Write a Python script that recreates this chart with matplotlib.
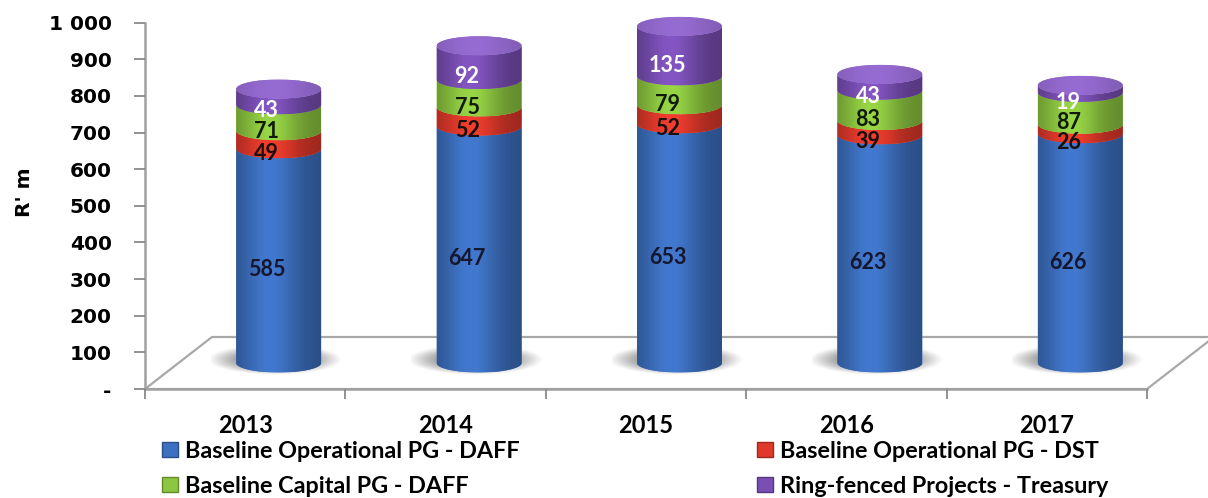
import numpy as np
import matplotlib
matplotlib.use("Agg")
import matplotlib.pyplot as plt
from matplotlib.patches import Polygon, PathPatch, Ellipse, Patch
from matplotlib.path import Path
from matplotlib.colors import to_rgb

# Budget per year, R' m
years = ["2013", "2014", "2015", "2016", "2017"]
op_daff = [585, 647, 653, 623, 626]
op_dst = [49, 52, 52, 39, 26]
cap_daff = [71, 75, 79, 83, 87]
ring_fenced = [43, 92, 135, 43, 19]

series = [op_daff, op_dst, cap_daff, ring_fenced]
names = ["Baseline Operational PG - DAFF", "Baseline Operational PG - DST",
         "Baseline Capital PG - DAFF", "Ring-fenced Projects - Treasury"]
colors = ["#3d70c0", "#e0392b", "#8dc640", "#7a4fb4"]
label_colors = ["#14172e", "#1a1010", "#101a08", "white"]
top_color = "#8f66c8"

W, H = 1208, 498
PX_CAT = 200.4      # pixels per category
PX_VAL = 0.3663     # pixels per unit of value

fig = plt.figure(figsize=(W / 100, H / 100), dpi=100)
ax = fig.add_axes([145 / W, (H - 389) / H, (W - 145) / W, 389 / H])
xmax = -0.5 + (W - 145) / PX_CAT
ymax = 389 / PX_VAL

# oblique depth of the floor
DX = 67 / PX_CAT
DY = 52 / PX_VAL
a = 42.5 / PX_CAT     # cylinder half width
b = 9.5 / PX_VAL      # half height of the elliptical ends
base = DY / 2

# floor
n = len(years)
floor = Polygon([(-0.5, 0), (n - 0.5, 0), (n - 0.5 + DX, DY), (-0.5 + DX, DY)],
                closed=True, facecolor="white", edgecolor="#a8a8a8", lw=1.6, zorder=1)
ax.add_patch(floor)


def shade_row(color, n=80, lo=0.7, hi=1.08, centre=0.4, width=0.33):
    u = np.linspace(0, 1, n)
    s = lo + (hi - lo) * np.exp(-((u - centre) / width) ** 2)
    rgb = np.clip(np.array(to_rgb(color))[None, :] * s[:, None], 0, 1)
    return rgb[None, :, :]


def segment_path(cx, y0, y1):
    t = np.linspace(np.pi, 2 * np.pi, 60)
    lower = np.column_stack([cx + a * np.cos(t), y0 + b * np.sin(t)])
    upper = np.column_stack([cx + a * np.cos(t[::-1]), y1 + b * np.sin(t[::-1])])
    verts = np.vstack([lower, upper, lower[:1]])
    codes = [Path.MOVETO] + [Path.LINETO] * (len(verts) - 2) + [Path.CLOSEPOLY]
    return Path(verts, codes)


def gradient_fill(patch, color, extent, z, **kw):
    ax.add_patch(patch)
    im = ax.imshow(shade_row(color, **kw), extent=extent, aspect="auto",
                   interpolation="bilinear", zorder=z)
    im.set_clip_path(patch)


for i in range(n):
    cx = i + DX / 2

    # soft shadow on the floor
    gy, gx = np.mgrid[-1:1:60j, -1:1:120j]
    r2 = (gx + 0.06) ** 2 + gy ** 2
    alpha = np.clip(1 - r2, 0, 1) ** 1.2 * 0.85
    shadow = np.zeros((60, 120, 4))
    shadow[..., :3] = 0.33
    shadow[..., 3] = alpha
    sy = base + 3 / PX_VAL
    ax.imshow(shadow, extent=(cx - 1.6 * a, cx + 1.6 * a, sy - 1.6 * b, sy + 1.6 * b),
              aspect="auto", interpolation="bilinear", zorder=2)

    bottom = base
    for k, vals in enumerate(series):
        v = vals[i]
        top = bottom + v
        seg = PathPatch(segment_path(cx, bottom, top), facecolor=colors[k],
                        edgecolor="none", transform=ax.transData, zorder=3 + k)
        gradient_fill(seg, colors[k], (cx - a, cx + a, bottom - b, top + b), 3 + k)
        ax.text(cx - 12 / PX_CAT, bottom + v / 2 - 38, str(v), ha="center", va="center",
                fontsize=15.5, fontweight="bold", family="Lato",
                color=label_colors[k], zorder=20)
        bottom = top

    cap = Ellipse((cx, bottom), 2 * a, 2 * b, facecolor=top_color,
                  edgecolor="none", transform=ax.transData, zorder=8)
    gradient_fill(cap, top_color, (cx - a, cx + a, bottom - b, bottom + b), 8,
                  lo=0.85, hi=1.05, centre=0.45, width=0.5)

ax.set_xlim(-0.5, xmax)
ax.set_ylim(0, ymax)

# axes styling
for side in ["top", "right"]:
    ax.spines[side].set_visible(False)
ax.spines["left"].set_bounds(0, 1000)
ax.spines["bottom"].set_bounds(-0.5, n - 0.5)
for side in ["left", "bottom"]:
    ax.spines[side].set_color("#a0a0a0")
    ax.spines[side].set_linewidth(1.8)
    ax.spines[side].set_zorder(1.5)

yticks = np.arange(0, 1001, 100)
ax.set_yticks(yticks)
ax.set_yticklabels(["-" if t == 0 else f"{t:,}".replace(",", " ") for t in yticks],
                   fontsize=14.5, fontweight="bold", family="DejaVu Sans")
ax.tick_params(axis="y", length=8, width=1.3, color="#8a8a8a", pad=16)

ax.set_xticks(np.arange(-0.5, n, 1))
ax.set_xticklabels([])
ax.tick_params(axis="x", which="major", length=7.5, width=1.3, color="#8a8a8a")
ax.set_xticks(range(n), minor=True)
ax.set_xticklabels(years, minor=True, fontsize=17, fontweight="bold", family="Lato")
ax.tick_params(axis="x", which="minor", length=0, pad=18)

fig.text(25 / W, 1 - 192 / H, "R' m", rotation=90, ha="center", va="center",
         fontsize=14.5, fontweight="bold", family="DejaVu Sans")

# legend in two columns
handles = [Patch(facecolor=c, edgecolor=np.array(to_rgb(c)) * 0.7) for c in colors]
for cols, x0 in [((0, 2), 162), ((1, 3), 757)]:
    fig.legend([handles[j] for j in cols], [names[j] for j in cols],
               loc="upper left", bbox_to_anchor=(x0 / W, 1 - 441 / H),
               bbox_transform=fig.transFigure, frameon=False, borderpad=0,
               borderaxespad=0, handlelength=0.7, handleheight=0.6, handletextpad=0.3,
               labelspacing=0.58, prop={"family": "Lato", "weight": "bold", "size": 16.8})

fig.savefig("out.png", dpi=100)
